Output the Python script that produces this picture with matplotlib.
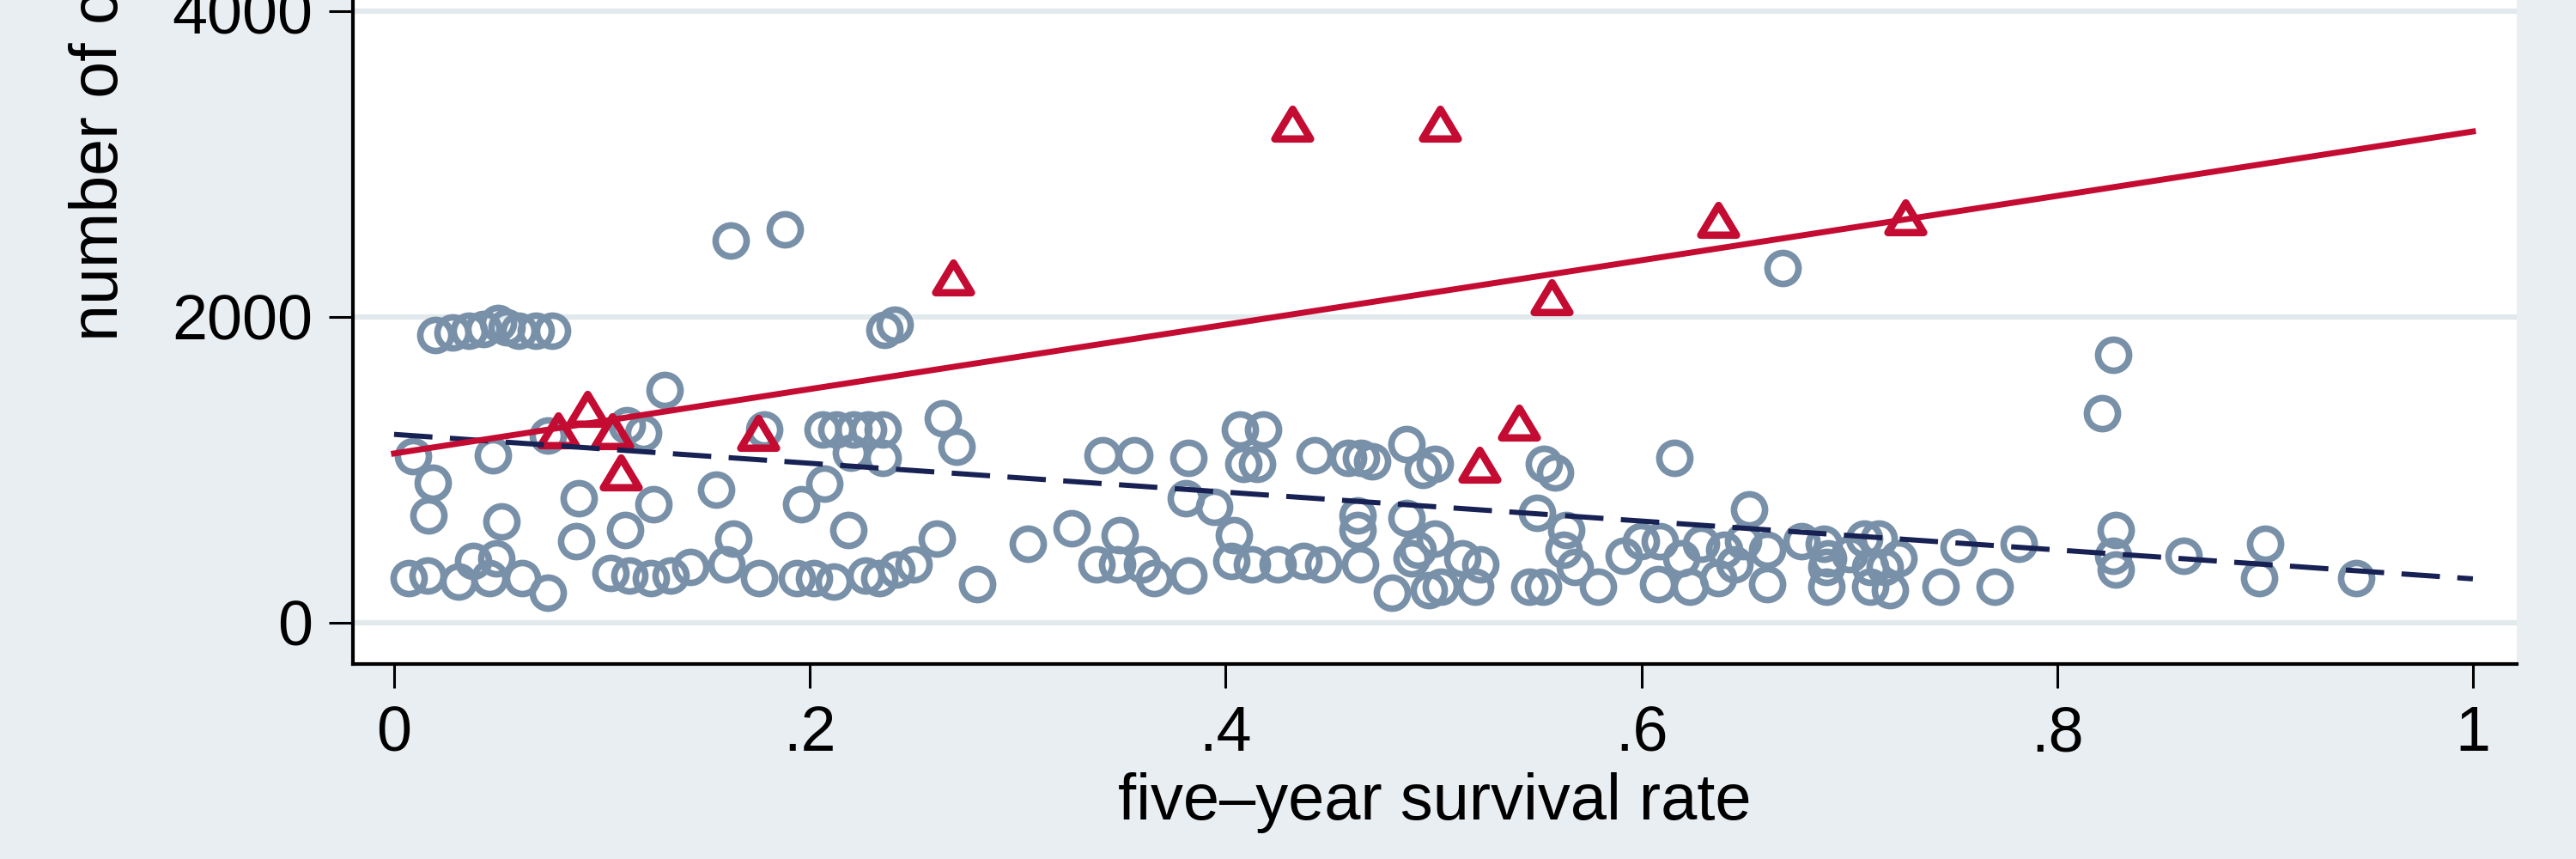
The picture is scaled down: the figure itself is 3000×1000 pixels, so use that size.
import matplotlib
matplotlib.use("Agg")
import matplotlib.pyplot as plt
from matplotlib.path import Path
from matplotlib.markers import MarkerStyle

# ---------------- data ----------------
circle_x = [0.020, 0.028, 0.036, 0.043, 0.050, 0.054, 0.060, 0.068, 0.076,
            0.130, 0.162, 0.188, 0.236, 0.241, 0.668, 0.827, 0.8215,
            0.009, 0.0186, 0.0165, 0.0475, 0.0516, 0.074, 0.0888, 0.0876, 0.1247, 0.111, 0.155, 0.112, 0.120,
            0.007, 0.016, 0.031, 0.038, 0.046, 0.049, 0.0615, 0.074, 0.104, 0.113, 0.1235, 0.133, 0.1425,
            0.178, 0.206, 0.2127, 0.221, 0.228, 0.235, 0.2197, 0.235, 0.264, 0.2705, 0.207, 0.196, 0.2185,
            0.163, 0.261, 0.305, 0.326,
            0.160, 0.1755, 0.1937, 0.202, 0.2115, 0.2268, 0.2334, 0.2416, 0.250, 0.2805,
            0.341, 0.356, 0.382, 0.407, 0.418, 0.4085, 0.415, 0.443, 0.459, 0.465, 0.4705, 0.487, 0.495, 0.5006,
            0.381, 0.3945, 0.404, 0.349, 0.4635, 0.4635, 0.487, 0.4924,
            0.338, 0.348, 0.360, 0.3655, 0.382, 0.4027, 0.4125, 0.425, 0.4374, 0.447, 0.4647, 0.480, 0.4895, 0.4977,
            0.553, 0.5585, 0.616, 0.550, 0.564, 0.5626, 0.568, 0.5006, 0.514, 0.5226, 0.5035, 0.520, 0.546, 0.5528,
            0.579, 0.5915, 0.5998, 0.609, 0.608, 0.619, 0.6234, 0.6287, 0.637, 0.640, 0.652, 0.649, 0.6605, 0.6605, 0.645,
            0.677, 0.6877, 0.689, 0.689, 0.707, 0.714, 0.710, 0.710, 0.7195, 0.7236, 0.717, 0.7526, 0.744, 0.7815,
            0.770, 0.828, 0.827, 0.828, 0.690, 0.700,
            0.861, 0.900, 0.897, 0.944]
circle_y = [1880, 1900, 1910, 1920, 1960, 1930, 1910, 1910, 1910,
            1520, 2500, 2575, 1915, 1950, 2320, 1753, 1370,
            1090, 916, 702, 1096, 663, 1225, 815, 534, 775, 607, 871, 1290, 1240,
            292, 309, 270, 404, 292, 421, 292, 197, 326, 309, 292, 309, 365,
            1264, 1264, 1264, 1264, 1264, 1264, 1112, 1078, 1337, 1152, 910, 775, 607,
            551, 551, 517, 615,
            380, 292, 292, 292, 270, 309, 292, 348, 382, 253,
            1096, 1096, 1078, 1264, 1264, 1039, 1039, 1096, 1078, 1078, 1056, 1168, 1000, 1040,
            815, 759, 573, 573, 702, 607, 685, 478,
            382, 382, 382, 292, 309, 404, 382, 382, 404, 382, 382, 197, 421, 214,
            1039, 983, 1078, 719, 607, 478, 365, 551, 421, 382, 236, 236, 236, 236,
            236, 438, 534, 534, 253, 421, 236, 517, 292, 478, 741, 534, 478, 253, 382,
            534, 517, 365, 236, 551, 551, 365, 236, 214, 421, 365, 494, 236, 517,
            236, 607, 438, 348, 420, 450,
            438, 517, 292, 292]

triangle_x = [0.079, 0.093, 0.105, 0.109, 0.175, 0.269, 0.432, 0.503, 0.557, 0.522, 0.541, 0.637, 0.727]
triangle_y = [1260, 1400, 1255, 985, 1240, 2260, 3265, 3265, 2130, 1035, 1310, 2635, 2650]

fit_x = [0.0, 1.0]
red_fit_y = [1107, 3213]
navy_fit_y = [1232, 287]

x_ticks = [0, 0.2, 0.4, 0.6, 0.8, 1.0]
x_tick_labels = ["0", ".2", ".4", ".6", ".8", "1"]
y_ticks = [0, 2000, 4000]
y_tick_labels = ["0", "2000", "4000"]

x_title = "five\u2013year survival rate"
y_title = "number of cases"

# ---------------- style ----------------
BG = "#E9EEF3"
GRID = "#E2E9EC"
CIRC = "#7890A8"
RED = "#C40B32"
NAVY = "#172154"

plt.rcParams['font.family'] = ['Liberation Sans', 'DejaVu Sans']

W, H = 3000, 1000
fig = plt.figure(figsize=(30, 10), dpi=100, facecolor=BG)
ax = fig.add_axes([411 / W, 1 - 773 / H, 2520 / W, 773 / H])
ax.set_facecolor("white")
ax.set_xlim(-0.0198, 1.0211)
ax.set_ylim(-270, 4073)

ax.set_yticks(y_ticks)
ax.set_yticklabels(y_tick_labels)
ax.set_xticks(x_ticks)
ax.set_xticklabels(x_tick_labels)
ax.yaxis.grid(True, color=GRID, linewidth=4.5)
ax.xaxis.grid(False)
ax.set_axisbelow(True)

for s in ["top", "right"]:
    ax.spines[s].set_visible(False)
for s in ["left", "bottom"]:
    ax.spines[s].set_linewidth(3)
    ax.spines[s].set_color("black")

ax.tick_params(axis="both", direction="out", length=20, width=2.2,
               labelsize=53, pad=14, colors="black")

# markers
ax.plot(circle_x, circle_y, linestyle="none", marker="o", ms=26,
        mfc="none", mec=CIRC, mew=5.5, zorder=3)

tri_path = Path([(0, 0.83), (-1, -0.83), (1, -0.83), (0, 0.83)],
                [Path.MOVETO, Path.LINETO, Path.LINETO, Path.CLOSEPOLY])
tri_marker = MarkerStyle(tri_path, joinstyle="miter")
ax.plot(triangle_x, triangle_y, linestyle="none", marker=tri_marker, ms=30,
        mfc="none", mec=RED, mew=6.2, zorder=4)

# fit lines
ax.plot(fit_x, navy_fit_y, color=NAVY, lw=4.3, linestyle=(0, (7.5, 3.4)), zorder=5)
ax.plot(fit_x, red_fit_y, color=RED, lw=5.0, zorder=6)

# titles
ax.set_xlabel(x_title, fontsize=54.5)
ax.xaxis.set_label_coords(0.5, (773 - 934) / 773)
ax.xaxis.label.set_va("center")
fig.text(116 / W, 1 - 397 / H, y_title, rotation=90, ha="center", va="bottom",
         fontsize=55.5)

fig.savefig("out.png", dpi=100, facecolor=fig.get_facecolor())
